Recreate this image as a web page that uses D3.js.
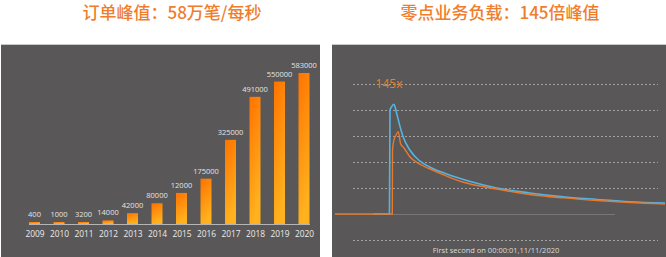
<!DOCTYPE html>
<html>
<head>
<meta charset="utf-8">
<script src="https://cdn.jsdelivr.net/npm/d3@7"></script>
<style>
  html, body { margin: 0; padding: 0; background: #fff; }
  svg { display: block; font-family: "Open Sans", "Noto Sans", sans-serif; }
</style>
</head>
<body>
<svg id="chart"></svg>
<script>
// left chart: peak orders per second by year
let years = ['2009', '2010', '2011', '2012', '2013', '2014', '2015', '2016', '2017', '2018', '2019', '2020'];
let orders = [400, 1000, 3200, 14000, 42000, 80000, 120000, 175000, 325000, 491000, 550000, 583000];
let orderLabels = ['400', '1000', '3200', '14000', '42000', '80000', '12000', '175000', '325000', '491000', '550000', '583000'];

// right chart: load around midnight (seconds, relative load)
let blueT = [-15, -0.5, 0, 1.4, 3.6, 6, 9, 12, 18, 27, 36, 51.5, 73, 97, 127, 157.5, 188, 218, 250];
let blueV = [0, 0, 4.0, 4.12, 4.22, 3.88, 3.38, 2.96, 2.46, 2.04, 1.81, 1.54, 1.25, 1.0, 0.81, 0.66, 0.56, 0.47, 0.42];
let orangeT = [-50, 2.1, 2.3, 3.6, 5.5, 7.5, 9.7, 12.7, 18, 27, 36, 51.5, 66, 97, 127, 157.5, 188, 218, 250];
let orangeV = [0, 0, 2.46, 2.85, 3.04, 3.17, 2.69, 2.54, 2.2, 1.92, 1.74, 1.46, 1.23, 0.96, 0.75, 0.62, 0.52, 0.44, 0.38];
let gridTicks = [-1, 1, 2, 3, 4, 5];

let w = 666;
let h = 257;
let bg = '#595757';
let svg = d3.select('#chart').attr('width', w).attr('height', h);

let defs = svg.append('defs');
let grad = defs.append('linearGradient')
    .attr('id', 'barGrad')
    .attr('x1', 0).attr('y1', 0).attr('x2', 0.3).attr('y2', 1);
grad.append('stop').attr('offset', '0%').attr('stop-color', '#ff7200');
grad.append('stop').attr('offset', '100%').attr('stop-color', '#ffb21e');

// titles
svg.append('text')
    .attr('x', 172).attr('y', 19)
    .attr('text-anchor', 'middle')
    .attr('fill', '#f07d2c')
    .style('font-family', '"Noto Sans CJK SC", sans-serif')
    .style('font-size', '17px')
    .style('font-weight', 500)
    .text('订单峰值：58万笔/每秒');
svg.append('text')
    .attr('x', 500).attr('y', 19)
    .attr('text-anchor', 'middle')
    .attr('fill', '#f07d2c')
    .style('font-family', '"Noto Sans CJK SC", sans-serif')
    .style('font-size', '17px')
    .style('font-weight', 500)
    .text('零点业务负载：145倍峰值');

// ---------- left panel ----------
let left = svg.append('g');
left.append('rect').attr('x', 1).attr('y', 44).attr('width', 319).attr('height', h - 44).attr('fill', bg);
left.append('line').attr('x1', 1).attr('x2', 320).attr('y1', 44.5).attr('y2', 44.5).attr('stroke', '#c9c9c9');

let baseY = 224;
let xBar = d3.scalePoint().domain(years).range([34.5, 304]);
let yBar = d3.scaleLinear().domain([0, 583000]).range([baseY, 73]);
let barW = 11;

left.selectAll('rect.bar')
    .data(orders)
    .enter()
    .append('rect')
    .attr('class', 'bar')
    .attr('x', (d, i) => xBar(years[i]) - barW / 2)
    .attr('width', barW)
    .attr('y', d => Math.min(yBar(d), baseY - 2))
    .attr('height', d => Math.max(baseY - yBar(d), 2))
    .attr('fill', 'url(#barGrad)');

left.selectAll('text.val')
    .data(orders)
    .enter()
    .append('text')
    .attr('class', 'val')
    .attr('x', (d, i) => xBar(years[i]))
    .attr('y', d => Math.min(yBar(d), baseY - 2) - 5)
    .attr('text-anchor', 'middle')
    .attr('fill', '#e4e4e4')
    .style('font-size', '7.5px')
    .text((d, i) => orderLabels[i]);

left.append('line')
    .attr('x1', 29).attr('x2', 310)
    .attr('y1', baseY + 0.5).attr('y2', baseY + 0.5)
    .attr('stroke', '#b5b5b5');

let xAxis = d3.axisBottom(xBar).tickSize(0).tickPadding(7);
let axisG = left.append('g').attr('transform', 'translate(0,' + baseY + ')').call(xAxis);
axisG.select('.domain').remove();
axisG.selectAll('text')
    .attr('fill', '#ececec')
    .style('font-family', '"Open Sans", sans-serif')
    .style('font-size', '8.4px');

// ---------- right panel ----------
let right = svg.append('g');
right.append('rect').attr('x', 332).attr('y', 44).attr('width', w - 332).attr('height', h - 44).attr('fill', bg);
right.append('line').attr('x1', 332).attr('x2', w).attr('y1', 44.5).attr('y2', 44.5).attr('stroke', '#c9c9c9');

let xT = d3.scaleLinear().domain([-50, 250]).range([335, 665]);
let yL = d3.scaleLinear().domain([-1, 5]).range([240, 84]);

right.selectAll('line.grid')
    .data(gridTicks)
    .enter()
    .append('line')
    .attr('class', 'grid')
    .attr('x1', 353).attr('x2', 658)
    .attr('y1', d => yL(d) + 0.5).attr('y2', d => yL(d) + 0.5)
    .attr('stroke', '#b4b4b4')
    .attr('stroke-width', 0.8)
    .attr('stroke-dasharray', '2,2');

right.append('line')
    .attr('x1', 335).attr('x2', 615)
    .attr('y1', yL(0) + 0.5).attr('y2', yL(0) + 0.5)
    .attr('stroke', '#777');

let line = d3.line()
    .x(d => xT(d[0]))
    .y(d => yL(d[1]))
    .curve(d3.curveMonotoneX);

let orangePts = orangeT.map((t, i) => [t, orangeV[i]]);
let bluePts = blueT.map((t, i) => [t, blueV[i]]);

right.append('path')
    .attr('d', line(bluePts))
    .attr('fill', 'none')
    .attr('stroke', '#55b4e4')
    .attr('stroke-width', 1.6);
right.append('path')
    .attr('d', line(orangePts))
    .attr('fill', 'none')
    .attr('stroke', '#e8792a')
    .attr('stroke-width', 1.4);

right.append('text')
    .attr('x', 389).attr('y', 88)
    .attr('text-anchor', 'middle')
    .attr('fill', '#e8812c')
    .style('font-size', '12px')
    .text('145x');

right.append('text')
    .attr('x', 496).attr('y', 253)
    .attr('text-anchor', 'middle')
    .attr('fill', '#dcdcdc')
    .style('font-size', '7.5px')
    .text('First second on 00:00:01,11/11/2020');
</script>
</body>
</html>
